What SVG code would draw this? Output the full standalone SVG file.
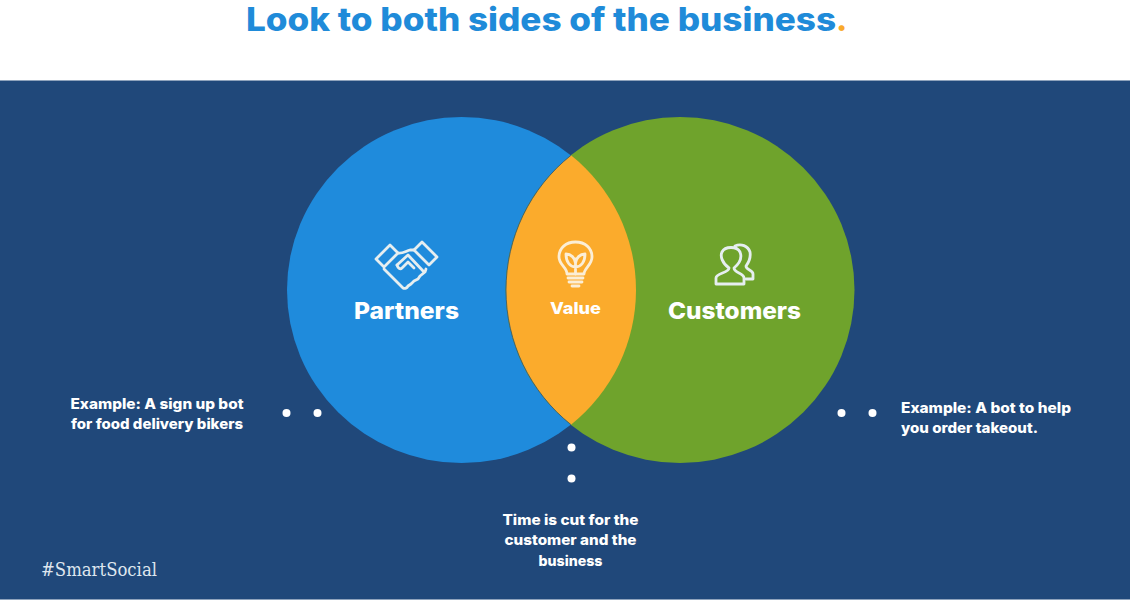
<svg xmlns="http://www.w3.org/2000/svg" width="1130" height="600" viewBox="0 0 1130 600">
<style>
text{font-family:"Inter","Open Sans","Liberation Sans",sans-serif;font-weight:800;fill:#fff}
.s{font-size:14px}
.l{font-size:23px}
.i{fill:none;stroke:#e6eef0;stroke-width:2.8;stroke-linejoin:round;stroke-linecap:round}
.d{fill:#fff}
</style>
<rect width="1130" height="600" fill="#fff"/>
<rect y="80.500" width="1130" height="519" fill="#20487a"/>
<text id="title" x="246" y="30.500" font-size="32" style="fill:#1f8bd9" textLength="590" lengthAdjust="spacingAndGlyphs">Look to both sides of the business</text>
<text x="836" y="30.500" font-size="32" style="fill:#f9aa2b">.</text>
<g id="partners">
<ellipse cx="461.500" cy="290" rx="174.500" ry="173" fill="#1f8bdc"/>
<g class="i">
<path d="M376 259L390 245 398 253 384 267Z"/>
<path d="M422 242L437 257 429 265 414 250Z"/>
<path d="M384 269L403 288C405 289 407 288 408 286L411 284 414 281 418 279 420 276 425 272 426 269"/>
<path d="M398 253C402 254 406 251 410 250 412 250 413 250 414 250"/>
<path d="M397 265L408 255 424 272"/>
<path d="M397 265C398 268 400 270 402 268L408 262 414 268"/>
</g>
<text class="l" x="406.500" y="318.500" text-anchor="middle" textLength="105" lengthAdjust="spacingAndGlyphs">Partners</text>
</g>
<g id="customers">
<ellipse cx="680" cy="290" rx="174.500" ry="173" fill="#6fa32c"/>
<g class="i">
<path d="M716 284V278C716 273 729 273 729 268C722 263 720 256 722 252C725 246 737 246 740 252C742 257 740 263 734 268C734 273 744 273 744 278V284Z"/>
<path d="M735 246C741 243 748 246 750 252C751 258 749 262 746 266C746 270 753 270 753 274V279H746"/>
</g>
<text class="l" x="734.500" y="318.500" text-anchor="middle" textLength="133" lengthAdjust="spacingAndGlyphs">Customers</text>
</g>
<g id="value">
<path d="M571 155.300A174.500 173 0 0 1 571 424.700A174.500 173 0 0 1 571 155.300Z" fill="#fbab2c"/>
<path d="M571 424.700A174.500 173 0 0 1 571 155.300" fill="none" stroke="#20487a" stroke-width="1" stroke-opacity="0.700"/>
<g class="i" style="stroke:#fbeed6">
<path d="M567 274C567 267 559 265 559 257C559 248 566 242 575.500 242C585 242 592 248 592 257C592 265 584 268 584 274Z"/>
<path d="M568 278H583M569 282H582M572 286H579"/>
<path d="M575.500 274V259M575.500 267C570 267 566 262 566 254C571 254 575 258 575.500 263C576 258 580 254 585 254C585 262 581 267 575.500 267"/>
</g>
<text x="575.500" y="313.500" font-size="16.500" text-anchor="middle" textLength="51" lengthAdjust="spacingAndGlyphs">Value</text>
</g>
<g id="connectors">
<circle class="d" cx="286.500" cy="413" r="4"/><circle class="d" cx="317.500" cy="413" r="4"/>
<circle class="d" cx="841.500" cy="413" r="4"/><circle class="d" cx="872.500" cy="413" r="4"/>
<circle class="d" cx="571.500" cy="447.500" r="4"/><circle class="d" cx="571.500" cy="478.500" r="4"/>
</g>
<g id="note-left">
<text class="s" x="70.500" y="409" textLength="173" lengthAdjust="spacingAndGlyphs">Example: A sign up bot</text>
<text class="s" x="71" y="429" textLength="172" lengthAdjust="spacingAndGlyphs">for food delivery bikers</text>
</g>
<g id="note-right">
<text class="s" x="901" y="413" textLength="170" lengthAdjust="spacingAndGlyphs">Example: A bot to help</text>
<text class="s" x="901" y="433" textLength="137" lengthAdjust="spacingAndGlyphs">you order takeout.</text>
</g>
<g id="note-bottom">
<text class="s" x="570.500" y="525" text-anchor="middle" textLength="136" lengthAdjust="spacingAndGlyphs">Time is cut for the</text>
<text class="s" x="570.500" y="545" text-anchor="middle" textLength="132" lengthAdjust="spacingAndGlyphs">customer and the</text>
<text class="s" x="570.500" y="566" text-anchor="middle" textLength="64" lengthAdjust="spacingAndGlyphs">business</text>
</g>
<text id="hashtag" x="41" y="575.500" font-size="19" style="font-family:'DejaVu Serif','Liberation Serif',serif;font-weight:400;fill:#dfe6ee" textLength="116" lengthAdjust="spacingAndGlyphs">#SmartSocial</text>
</svg>
